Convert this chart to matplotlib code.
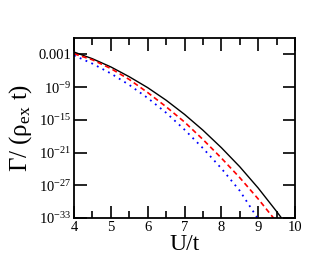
import matplotlib
matplotlib.use("Agg")
import matplotlib.pyplot as plt
import numpy as np

# data: U/t vs log10(Gamma/(rho_ex t))
x_black = [4.0, 4.5, 5.0, 5.5, 6.0, 6.5, 7.0, 7.5, 8.0, 8.5, 9.0, 9.5, 9.7]
y_black = [-2.57, -3.8, -5.3, -7.1, -9.1, -11.4, -14.0, -16.9, -20.1, -23.6, -27.5, -31.8, -33.6]
x_red = [4.0, 4.5, 5.0, 5.5, 6.0, 6.5, 7.0, 7.5, 8.0, 8.5, 9.0, 9.5]
y_red = [-2.9, -4.0, -5.6, -7.6, -10.0, -12.6, -15.4, -18.6, -22.0, -25.6, -29.5, -33.7]
x_blue = [4.0, 4.5, 5.0, 5.5, 6.0, 6.5, 7.0, 7.5, 8.0, 8.5, 9.0, 9.05]
y_blue = [-3.2, -4.7, -6.5, -8.6, -11.0, -13.7, -16.8, -20.2, -23.9, -28.0, -33.2, -33.8]

xticks = [4, 5, 6, 7, 8, 9, 10]
ytick_exp = [-33, -27, -21, -15, -9, -3]
ytick_labels = [r"10$^{-33}$", r"10$^{-27}$", r"10$^{-21}$", r"10$^{-15}$", r"10$^{-9}$", "0.001"]

plt.rcParams['font.family'] = 'Liberation Serif'
plt.rcParams['mathtext.fontset'] = 'custom'
plt.rcParams['mathtext.rm'] = 'Liberation Serif'
plt.rcParams['mathtext.it'] = 'Liberation Serif:italic'

fig = plt.figure(figsize=(3.32, 2.57), dpi=100)
ax = fig.add_axes([74/332, 1-218/257, (295-74)/332, (218-38)/257])

ax.plot(x_black, 10.0**np.array(y_black), color='black', lw=1.0, ls='-')
ax.plot(x_red, 10.0**np.array(y_red), color='red', lw=1.2, ls=(0, (3, 2)))
ax.plot(x_blue, 10.0**np.array(y_blue), color='blue', lw=1.3, ls=(0, (1, 2.5)))

ax.set_yscale('log')
ax.set_xlim(4, 10)
ax.set_ylim(1e-33, 1)
ax.set_xticks(xticks)
ax.set_xticks(np.arange(4.5, 10, 1.0), minor=True)
ax.set_yticks([10.0**e for e in ytick_exp])
ax.set_yticklabels(ytick_labels)
ax.yaxis.set_minor_locator(matplotlib.ticker.NullLocator())
ax.tick_params(which='both', direction='in', top=True, right=True, labelsize=10.5, width=1.2)
ax.tick_params(which='major', length=9)
ax.tick_params(which='minor', length=5)
ax.tick_params(axis='x', pad=2)
ax.tick_params(axis='y', pad=2)
for s in ax.spines.values():
    s.set_linewidth(1.3)

ax.set_xlabel('U/t', fontsize=17, labelpad=0)
ax.set_ylabel('Γ/ (ρ$_{\\rm ex}$ t)', fontsize=18, labelpad=3)

fig.savefig('out.png', dpi=100)
